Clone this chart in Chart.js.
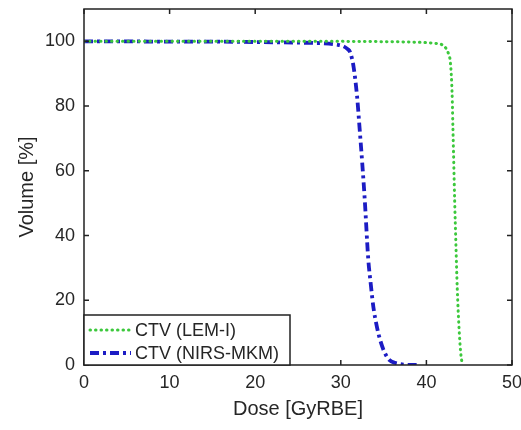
<!DOCTYPE html>
<html>
<head>
<meta charset="utf-8">
<script src="https://cdn.jsdelivr.net/npm/chart.js@4"></script>
<style>
  html, body { margin: 0; padding: 0; background: #fff; overflow: hidden; }
  #wrap { width: 540px; height: 430px; }
</style>
</head>
<body>
<div id="wrap"><canvas id="dvh"></canvas></div>
<script>
// DVH curves
const lemDose = [0, 10, 20, 30, 35, 38, 40, 41, 41.8, 42.3, 42.6, 42.8, 43.0, 43.1, 43.2, 43.3, 43.45, 43.6, 43.8, 44.0, 44.2];
const lemVolume = [100, 100, 100, 100, 99.9, 99.8, 99.6, 99.4, 99.0, 97.8, 96, 93.5, 84, 73, 62, 51, 37, 24, 12, 4, 0];

const mkmDose = [0, 5, 10, 15, 20, 25, 28, 29.5, 30.3, 30.8, 31.1, 31.5, 31.9, 32.2, 32.5, 32.8, 33.2, 33.5, 33.8, 34.2, 34.6, 35.1, 35.7, 36.3, 36.9, 37.5, 38.5, 39.3];
const mkmVolume = [100, 100, 99.9, 99.9, 99.8, 99.6, 99.4, 99.0, 98.5, 97.6, 96.6, 92, 83, 73, 62.5, 51, 33, 25, 18, 12, 7.7, 4, 1.5, 0.7, 0.3, 0.1, 0, 0];

const seriesLabels = ['CTV (LEM-I)', 'CTV (NIRS-MKM)'];
const xTicks = [0, 10, 20, 30, 40, 50];
const yTicks = [0, 20, 40, 60, 80, 100];

const FONT = '"Liberation Sans", Arial, Helvetica, sans-serif';
const INK = '#262626';

function pts(xs, ys) {
  return xs.map((x, i) => ({ x: x, y: ys[i] }));
}

// matlab style box with inward ticks
const framePlugin = {
  id: 'frame',
  afterDatasetsDraw(chart) {
    const { ctx, chartArea: ca, scales } = chart;
    ctx.save();
    ctx.strokeStyle = '#222';
    ctx.lineWidth = 1.5;
    ctx.strokeRect(ca.left, ca.top, ca.right - ca.left, ca.bottom - ca.top);
    const len = 5;
    ctx.beginPath();
    xTicks.forEach(v => {
      const px = scales.x.getPixelForValue(v);
      ctx.moveTo(px, ca.bottom); ctx.lineTo(px, ca.bottom - len);
      ctx.moveTo(px, ca.top); ctx.lineTo(px, ca.top + len);
    });
    yTicks.forEach(v => {
      const py = scales.y.getPixelForValue(v);
      ctx.moveTo(ca.left, py); ctx.lineTo(ca.left + len, py);
      ctx.moveTo(ca.right, py); ctx.lineTo(ca.right - len, py);
    });
    ctx.stroke();
    ctx.restore();
  }
};

// legend box sitting in the lower left corner of the axes
const legendPlugin = {
  id: 'boxLegend',
  afterDraw(chart) {
    const { ctx, chartArea: ca } = chart;
    const w = 206, h = 50;
    const x0 = ca.left, y0 = ca.bottom - h;
    ctx.save();
    ctx.fillStyle = '#fff';
    ctx.fillRect(x0, y0, w, h);
    ctx.strokeStyle = '#222';
    ctx.lineWidth = 1.5;
    ctx.strokeRect(x0, y0, w, h);
    ctx.font = '18px ' + FONT;
    ctx.textBaseline = 'middle';
    chart.data.datasets.forEach((ds, i) => {
      const y = y0 + 15 + i * 23;
      ctx.beginPath();
      ctx.strokeStyle = ds.borderColor;
      ctx.lineWidth = ds.borderWidth;
      ctx.lineCap = ds.borderCapStyle;
      ctx.setLineDash(ds.borderDash);
      ctx.moveTo(x0 + 6, y);
      ctx.lineTo(x0 + 47, y);
      ctx.stroke();
      ctx.setLineDash([]);
      ctx.fillStyle = INK;
      ctx.fillText(ds.label, x0 + 51, y + 1);
    });
    ctx.restore();
  }
};

new Chart(document.getElementById('dvh'), {
  type: 'line',
  data: {
    datasets: [
      {
        label: seriesLabels[0],
        data: pts(lemDose, lemVolume),
        borderColor: '#3cc83c',
        borderWidth: 3,
        borderDash: [0.5, 5],
        borderCapStyle: 'round',
        pointRadius: 0,
        fill: false,
        cubicInterpolationMode: 'monotone'
      },
      {
        label: seriesLabels[1],
        data: pts(mkmDose, mkmVolume),
        borderColor: '#1c1cc4',
        borderWidth: 3.8,
        borderDash: [9, 4, 3, 4],
        borderCapStyle: 'butt',
        pointRadius: 0,
        fill: false,
        cubicInterpolationMode: 'monotone'
      }
    ]
  },
  options: {
    responsive: true,
    maintainAspectRatio: false,
    animation: false,
    layout: { padding: { left: 0, right: 28, top: 9, bottom: 0 } },
    plugins: { legend: { display: false }, tooltip: { enabled: false } },
    scales: {
      x: {
        type: 'linear',
        min: 0, max: 50,
        afterBuildTicks: s => { s.ticks = xTicks.map(v => ({ value: v })); },
        afterFit: s => { s.height = 65; },
        grid: { display: false, drawTicks: false },
        border: { display: false },
        ticks: { color: INK, font: { family: FONT, size: 18 }, padding: 7, maxRotation: 0 },
        title: { display: true, text: 'Dose [GyRBE]', color: INK, font: { family: FONT, size: 20 }, padding: { top: 0, bottom: 9 } }
      },
      y: {
        min: 0, max: 110,
        afterBuildTicks: s => { s.ticks = yTicks.map(v => ({ value: v })); },
        afterFit: s => { s.width = 84; s.paddingTop = 0; s.paddingBottom = 0; },
        grid: { display: false, drawTicks: false },
        border: { display: false },
        ticks: { color: INK, font: { family: FONT, size: 18 }, padding: 9 },
        title: { display: true, text: 'Volume [%]', color: INK, font: { family: FONT, size: 20 }, padding: { top: 15, bottom: 0 } }
      }
    }
  },
  plugins: [framePlugin, legendPlugin]
});
</script>
</body>
</html>
